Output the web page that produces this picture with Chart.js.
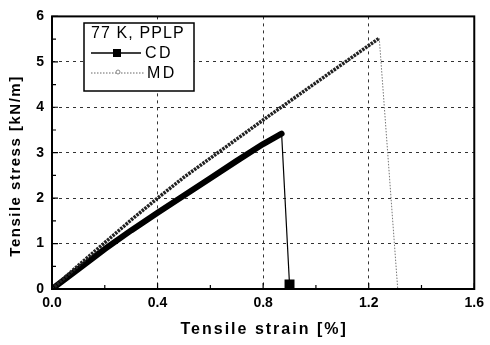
<!DOCTYPE html>
<html>
<head>
<meta charset="utf-8">
<script src="https://cdn.jsdelivr.net/npm/chart.js@4/dist/chart.umd.min.js"></script>
<style>
html,body{margin:0;padding:0;background:#fff;}
#wrap{width:490px;height:345px;position:relative;overflow:hidden;}
</style>
</head>
<body>
<div id="wrap"><canvas id="c" width="490" height="345"></canvas></div>
<script>
// ---- data ----
const cdStrain = [0, 0.1, 0.2, 0.3, 0.4, 0.5, 0.6, 0.7, 0.8, 0.87, 0.90];
const cdStress = [0, 0.44, 0.88, 1.29, 1.68, 2.06, 2.44, 2.82, 3.19, 3.42, 0.10];
const mdStrain = [0, 0.1, 0.2, 0.3, 0.4, 0.5, 0.6, 0.7, 0.8, 0.9, 1.0, 1.1, 1.2, 1.24, 1.31];
const mdStress = [0, 0.52, 1.02, 1.52, 2.0, 2.46, 2.88, 3.3, 3.72, 4.13, 4.54, 4.95, 5.36, 5.52, 0];
const xTickLabels = ['0.0', '0.4', '0.8', '1.2', '1.6'];
const yTickLabels = ['0', '1', '2', '3', '4', '5', '6'];
const legendTitle = '77 K, PPLP';
const seriesNames = ['CD', 'MD'];
const xTitle = 'Tensile strain [%]';
const yTitle = 'Tensile stress [kN/m]';

const FONT = '"Liberation Sans", Arial, Helvetica, sans-serif';

const cdData = cdStrain.map((x, i) => ({x: x, y: cdStress[i]}));
const mdData = mdStrain.map((x, i) => ({x: x, y: mdStress[i]}));

const decorPlugin = {
  id: 'decor',
  afterDraw(chart) {
    const ctx = chart.ctx;
    const a = chart.chartArea;
    const xs = chart.scales.x, ys = chart.scales.y;
    ctx.save();
    // frame
    ctx.strokeStyle = '#000';
    ctx.lineWidth = 2;
    ctx.strokeRect(a.left, a.top, a.right - a.left, a.bottom - a.top);
    // inward ticks
    ctx.lineWidth = 1.2;
    ctx.beginPath();
    for (let v = 0; v <= 1.6001; v += 0.2) {
      const px = xs.getPixelForValue(v);
      const major = Math.abs(v / 0.4 - Math.round(v / 0.4)) < 1e-6;
      ctx.moveTo(px, a.bottom);
      ctx.lineTo(px, a.bottom - (major ? 6 : 4));
    }
    for (let v = 0; v <= 6.001; v += 0.5) {
      const py = ys.getPixelForValue(v);
      const major = Math.abs(v - Math.round(v)) < 1e-6;
      ctx.moveTo(a.left, py);
      ctx.lineTo(a.left + (major ? 6 : 4), py);
    }
    ctx.stroke();

    // axis titles
    ctx.fillStyle = '#000';
    ctx.font = 'bold 16px ' + FONT;
    ctx.letterSpacing = '2px';
    ctx.textAlign = 'center';
    ctx.textBaseline = 'middle';
    ctx.fillText(xTitle, (a.left + a.right) / 2 + 1, 330);
    ctx.save();
    ctx.translate(16, 166);
    ctx.rotate(-Math.PI / 2);
    ctx.font = 'bold 15px ' + FONT;
    ctx.letterSpacing = '1.5px';
    ctx.fillText(yTitle, 0, 0);
    ctx.restore();

    // legend box
    const bx = 84, by = 23, bw = 110, bh = 68;
    ctx.fillStyle = '#fff';
    ctx.fillRect(bx, by, bw, bh);
    ctx.strokeStyle = '#000';
    ctx.lineWidth = 1.5;
    ctx.strokeRect(bx, by, bw, bh);
    ctx.fillStyle = '#000';
    ctx.textAlign = 'left';
    ctx.font = '16px ' + FONT;
    ctx.letterSpacing = '1.1px';
    ctx.fillText(legendTitle, 91, 34);
    // CD row
    ctx.lineWidth = 1.5;
    ctx.setLineDash([]);
    ctx.beginPath();
    ctx.moveTo(91, 53); ctx.lineTo(141, 53);
    ctx.stroke();
    ctx.fillRect(113, 49, 8, 8);
    ctx.letterSpacing = '2.5px';
    ctx.fillText(seriesNames[0], 145, 54);
    // MD row
    ctx.strokeStyle = '#666';
    ctx.lineWidth = 1;
    ctx.setLineDash([1.5, 1.5]);
    ctx.beginPath();
    ctx.moveTo(91, 73); ctx.lineTo(144, 73);
    ctx.stroke();
    ctx.setLineDash([]);
    ctx.fillStyle = '#fff';
    ctx.strokeStyle = '#888';
    ctx.beginPath();
    ctx.arc(118, 72, 2, 0, Math.PI * 2);
    ctx.fill(); ctx.stroke();
    ctx.fillStyle = '#000';
    ctx.fillText(seriesNames[1], 147, 74);
    ctx.restore();
  }
};

new Chart(document.getElementById('c'), {
  type: 'scatter',
  data: {
    datasets: [
      {
        label: seriesNames[0],
        data: cdData,
        showLine: true,
        borderColor: '#000',
        backgroundColor: '#000',
        borderWidth: 6,
        borderCapStyle: 'round',
        borderJoinStyle: 'round',
        pointStyle: 'rect',
        pointRadius: cdData.map((p, i) => i === cdData.length - 1 ? 2.8 : 0),
        segment: {
          borderWidth: ctx => ctx.p1DataIndex === cdData.length - 1 ? 1.2 : 6
        },
        order: 2
      },
      {
        label: seriesNames[1],
        data: mdData,
        showLine: true,
        borderColor: '#222',
        backgroundColor: '#fff',
        borderWidth: 3.5,
        borderDash: [2.5, 1],
        pointRadius: 0,
        segment: {
          borderWidth: ctx => ctx.p1DataIndex === mdData.length - 1 ? 1 : 3.5,
          borderColor: ctx => ctx.p1DataIndex === mdData.length - 1 ? '#777' : '#222',
          borderDash: ctx => ctx.p1DataIndex === mdData.length - 1 ? [1.5, 1.5] : [2.5, 1]
        },
        order: 1
      }
    ]
  },
  options: {
    responsive: false,
    animation: false,
    layout: {padding: {left: 0, right: 10, top: 7, bottom: 0}},
    plugins: {legend: {display: false}, tooltip: {enabled: false}},
    scales: {
      x: {
        type: 'linear',
        min: 0, max: 1.6,
        afterFit(s) { s.height = 56; },
        afterBuildTicks(s) { s.ticks = xTickLabels.map(t => ({value: parseFloat(t)})); },
        ticks: {
          callback: (v) => { const i = xTickLabels.findIndex(t => Math.abs(parseFloat(t) - v) < 1e-6); return i >= 0 ? xTickLabels[i] : ''; },
          color: '#000',
          font: {family: FONT, size: 14, weight: 'bold'},
          padding: 6,
          maxRotation: 0
        },
        grid: {color: '#333', lineWidth: 1, drawTicks: false},
        border: {display: false, dash: [3, 4]}
      },
      y: {
        type: 'linear',
        min: 0, max: 6,
        afterFit(s) { s.width = 52; },
        afterBuildTicks(s) { s.ticks = yTickLabels.map(t => ({value: parseFloat(t)})); },
        ticks: {
          callback: (v) => { const i = yTickLabels.findIndex(t => Math.abs(parseFloat(t) - v) < 1e-6); return i >= 0 ? yTickLabels[i] : ''; },
          color: '#000',
          font: {family: FONT, size: 14, weight: 'bold'},
          padding: 8
        },
        grid: {color: '#333', lineWidth: 1, drawTicks: false},
        border: {display: false, dash: [3, 4]}
      }
    }
  },
  plugins: [decorPlugin]
});
</script>
</body>
</html>
